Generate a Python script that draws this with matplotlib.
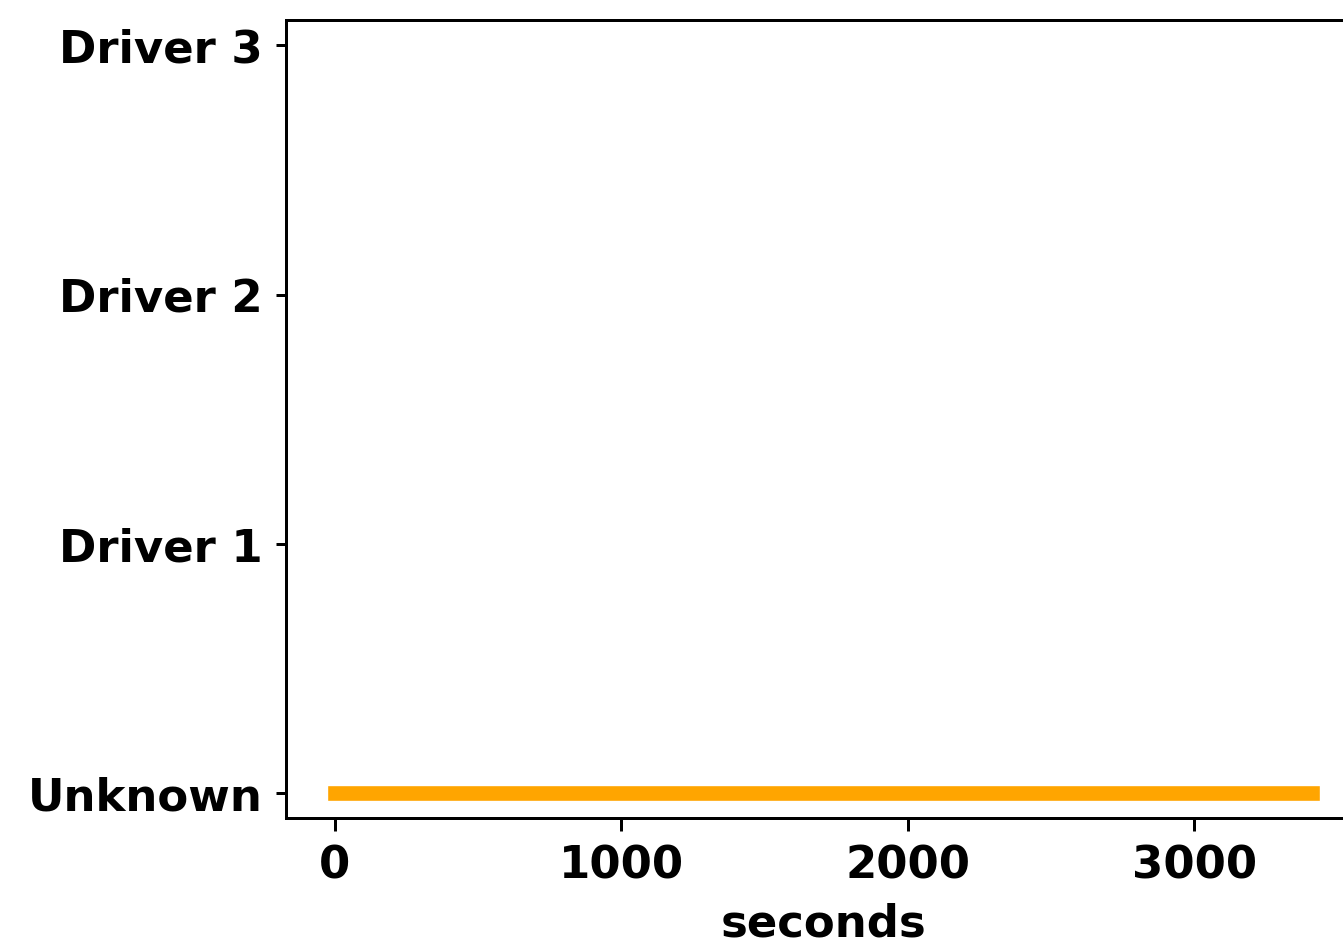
import matplotlib
matplotlib.use("Agg")
import matplotlib.pyplot as plt

# Timeline of which driver was active, in seconds
drivers = ["Unknown", "Driver 1", "Driver 2", "Driver 3"]
seg_driver = [0]
seg_start = [0]
seg_end = [3410]
seg_color = "orange"

plt.rcParams["font.family"] = "DejaVu Sans"
plt.rcParams["font.weight"] = "bold"
plt.rcParams["font.size"] = 12

W, H, DPI = 1343, 939, 270
fig = plt.figure(figsize=(W / DPI, H / DPI), dpi=DPI)
ax = fig.add_axes([286 / W, (H - 818.3) / H, (1360.5 - 286) / W, (818.3 - 20.5) / H])

for d, s, e in zip(seg_driver, seg_start, seg_end):
    ax.plot([s, e], [d, d], color=seg_color, linewidth=3.9)

ax.set_yticks(range(len(drivers)))
ax.set_yticklabels(drivers, fontweight="bold")
ax.set_ylim(-0.1, len(drivers) - 0.9)
ax.tick_params(axis="y", length=2.7)
ax.set_xticks([0, 1000, 2000, 3000])
ax.set_xlabel("seconds", fontweight="bold")

fig.savefig("out.png", dpi=DPI)
